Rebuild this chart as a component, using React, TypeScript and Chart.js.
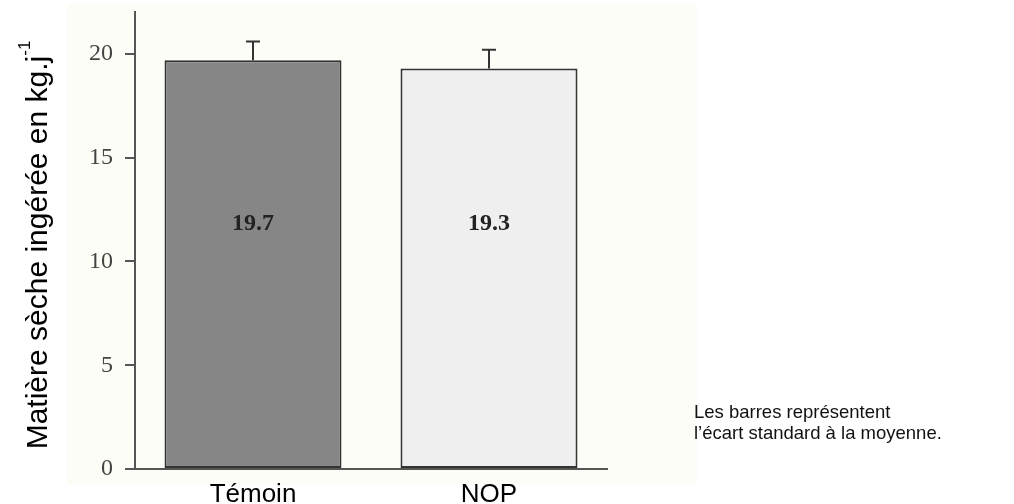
import React, { useEffect, useRef } from "react";
import { Chart, registerables } from "chart.js";

Chart.register(...registerables);

const categories = ["Témoin", "NOP"];
const means = [19.7, 19.3];
const sds = [0.9, 0.9];
const barColors = ["#868686", "#efefef"];
const yTicks = [0, 5, 10, 15, 20];
const Y_MAX = 22;
const LABEL_LEVEL = 11.8;
const yTitle = "Matière sèche ingérée en kg.j";
const yTitleSup = "-1";
const noteLines = ["Les barres représentent", "l’écart standard à la moyenne."];

const W = 1014;
const H = 504;
const OFF = 14;

const decorPlugin = {
  id: "decor",
  beforeDraw(chart: any) {
    const ctx = chart.ctx;
    ctx.save();
    ctx.translate(0, OFF);
    ctx.fillStyle = "#ffffff";
    ctx.fillRect(0, -OFF, W, H + OFF);
    ctx.fillStyle = "#fdfdf7";
    ctx.fillRect(67, 5, 630, 480);
    ctx.restore();
  },
  afterDatasetsDraw(chart: any) {
    const ctx = chart.ctx;
    const x = chart.scales.x;
    const y = chart.scales.y;
    ctx.save();
    // error bars
    ctx.strokeStyle = "#333333";
    ctx.lineWidth = 2;
    means.forEach((m, i) => {
      const cx = Math.round(x.getPixelForValue(i));
      const top = y.getPixelForValue(m);
      const capY = y.getPixelForValue(m + sds[i]);
      ctx.beginPath();
      ctx.moveTo(cx, top);
      ctx.lineTo(cx, capY);
      ctx.moveTo(cx - 7, capY);
      ctx.lineTo(cx + 7, capY);
      ctx.stroke();
    });
    // value labels
    ctx.fillStyle = "#222222";
    ctx.font = "bold 24px 'Liberation Serif', 'Times New Roman', serif";
    ctx.textAlign = "center";
    ctx.textBaseline = "middle";
    means.forEach((m, i) => {
      ctx.fillText(m.toFixed(1), x.getPixelForValue(i), y.getPixelForValue(LABEL_LEVEL));
    });
    ctx.translate(0, OFF);
    // y title with superscript
    ctx.save();
    ctx.translate(39, 245);
    ctx.rotate(-Math.PI / 2);
    ctx.font = "30px 'Liberation Sans', Arial, sans-serif";
    const mainW = ctx.measureText(yTitle).width;
    ctx.font = "17px 'Liberation Sans', Arial, sans-serif";
    const supW = ctx.measureText(yTitleSup).width;
    const total = mainW + supW;
    ctx.fillStyle = "#000000";
    ctx.textAlign = "left";
    ctx.textBaseline = "middle";
    ctx.font = "30px 'Liberation Sans', Arial, sans-serif";
    ctx.fillText(yTitle, -total / 2, 0);
    ctx.font = "17px 'Liberation Sans', Arial, sans-serif";
    ctx.fillText(yTitleSup, -total / 2 + mainW, -14);
    ctx.restore();
    // note
    ctx.fillStyle = "#111111";
    ctx.font = "18.5px 'Liberation Sans', Arial, sans-serif";
    ctx.textAlign = "left";
    ctx.textBaseline = "middle";
    noteLines.forEach((t, i) => ctx.fillText(t, 694, 413 + i * 21));
    ctx.restore();
  },
};

export default function App() {
  const ref = useRef<HTMLCanvasElement>(null);
  useEffect(() => {
    if (!ref.current) return;
    const chart = new Chart(ref.current, {
      type: "bar",
      data: {
        labels: categories,
        datasets: [
          {
            data: means,
            backgroundColor: barColors,
            borderColor: "#333333",
            borderWidth: 2,
            borderSkipped: false,
            barPercentage: 0.75,
            categoryPercentage: 1,
          },
        ],
      },
      options: {
        responsive: false,
        animation: false,
        layout: { padding: { left: 0, right: W - 607, top: 0, bottom: 0 } },
        plugins: { legend: { display: false }, tooltip: { enabled: false } },
        scales: {
          x: {
            grid: { display: false },
            border: { display: true, color: "#555555", width: 2 },
            ticks: {
              color: "#000000",
              padding: 2,
              font: { family: "'Liberation Sans', Arial, sans-serif", size: 26 },
            },
            afterFit: (s: any) => {
              s.height = 35;
            },
          },
          y: {
            min: 0,
            max: Y_MAX,
            afterBuildTicks: (s: any) => {
              s.ticks = yTicks.map((v) => ({ value: v }));
            },
            grid: {
              drawOnChartArea: false,
              drawTicks: true,
              tickLength: 10,
              color: "#555555",
              lineWidth: 2,
            },
            border: { display: true, color: "#555555", width: 2 },
            ticks: {
              color: "#444444",
              padding: 12,
              font: { family: "'Liberation Serif', 'Times New Roman', serif", size: 24 },
            },
            afterFit: (s: any) => {
              s.width = 135;
            },
          },
        },
      },
      plugins: [decorPlugin],
    });
    return () => chart.destroy();
  }, []);
  return (
    <div style={{ position: "absolute", left: 0, top: -OFF, width: W, height: H + OFF, overflow: "hidden" }}>
      <canvas ref={ref} width={W} height={H + OFF} style={{ display: "block" }} />
    </div>
  );
}
